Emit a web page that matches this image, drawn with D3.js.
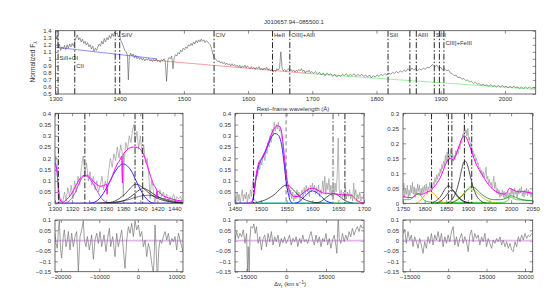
<!DOCTYPE html>
<html>
<head>
<meta charset="utf-8">
<script src="https://cdn.jsdelivr.net/npm/d3@7"></script>
<style>
  body { margin: 0; background: #fff; }
  svg { display: block; }
  text { font-family: 'Liberation Sans', Arial, sans-serif; fill: #333; }
</style>
</head>
<body>
<svg id="chart" width="555" height="292"></svg>
<script>
// ---- data ----
const title = "J010657.94\u2212085500.1";

// top panel: normalized spectrum [wavelength, flux]
const spectrum = [[1300,1.38],[1301.5,1.28],[1303,1.33],[1304.5,1.16],[1306,1.21],[1308,1.12],[1310,1.17],[1312,1.14],[1314,1.19],[1316,1.13],[1318,1.2],[1320,1.15],[1322,1.21],[1324,1.17],[1326,1.22],[1328,1.18],[1330,1.25],[1332,1.3],[1334,1.34],[1336,1.27],[1338,1.3],[1340,1.24],[1342,1.28],[1344,1.22],[1346,1.25],[1348,1.2],[1350,1.23],[1352,1.17],[1354,1.2],[1356,1.14],[1358,1.18],[1360,1.11],[1362,1.15],[1364,1.12],[1366,1.17],[1368,1.21],[1370,1.18],[1372,1.25],[1374,1.21],[1376,1.29],[1378,1.24],[1380,1.3],[1382,1.27],[1384,1.33],[1386,1.29],[1388,1.36],[1390,1.32],[1392,1.38],[1394,1.35],[1396,1.37],[1398,1.31],[1400,1.33],[1402,1.26],[1404,1.22],[1406,1.17],[1408,1.12],[1410,1.1],[1412,1.05],[1413.5,0.7],[1415,1.03],[1417,1.08],[1419,1.04],[1421,1.07],[1423,1.01],[1425,1.05],[1427,1.0],[1429,1.03],[1431,0.99],[1433,1.02],[1435,0.98],[1437,1.01],[1439,0.97],[1441,1.0],[1443,0.98],[1445,1.01],[1447,0.97],[1449,0.99],[1451,0.96],[1453,0.99],[1455,0.97],[1457,1.0],[1459,0.96],[1461,0.98],[1463,0.95],[1465,0.99],[1467,0.97],[1469,1.0],[1471,0.96],[1473,0.68],[1475,0.98],[1477,1.02],[1479,1.0],[1481,1.04],[1483,0.86],[1485,1.02],[1487,1.06],[1489,1.04],[1491,1.09],[1493,1.07],[1495,1.12],[1497,1.1],[1499,1.15],[1501,1.13],[1503,1.17],[1505,1.15],[1507,1.2],[1509,1.18],[1511,1.22],[1513,1.19],[1515,1.24],[1517,1.21],[1519,1.26],[1521,1.23],[1523,1.27],[1525,1.24],[1527,1.28],[1529,1.25],[1531,1.27],[1533,1.23],[1535,1.26],[1537,1.24],[1539,1.22],[1541,1.2],[1543,1.15],[1545,1.07],[1547,1.02],[1549,1.0],[1551,0.98],[1553,0.96],[1555,0.97],[1557,0.94],[1559,0.96],[1561,0.93],[1563,0.95],[1565,0.92],[1567,0.94],[1569,0.91],[1571,0.93],[1573,0.9],[1575,0.93],[1577,0.9],[1579,0.92],[1581,0.89],[1583,0.91],[1585,0.88],[1587,0.91],[1589,0.87],[1591,0.9],[1593,0.88],[1595,0.91],[1597,0.87],[1599,0.9],[1601,0.88],[1603,0.86],[1605,0.89],[1607,0.86],[1609,0.88],[1611,0.85],[1613,0.88],[1615,0.86],[1617,0.89],[1619,0.85],[1621,0.87],[1623,0.84],[1625,0.87],[1627,0.85],[1629,0.88],[1631,0.84],[1633,0.86],[1635,0.83],[1637,0.85],[1639,0.81],[1641,0.84],[1643,0.82],[1645,0.86],[1647,0.84],[1649,0.87],[1651,1.1],[1653,0.86],[1655,0.83],[1657,0.85],[1659,0.82],[1661,0.84],[1663,0.86],[1665,0.83],[1667,0.85],[1669,0.82],[1671,0.84],[1673,0.81],[1675,0.84],[1677,0.82],[1679,0.85],[1681,0.83],[1683,0.86],[1685,0.82],[1687,0.84],[1689,0.8],[1691,0.83],[1693,0.81],[1695,0.84],[1697,0.8],[1699,0.82],[1702,0.79],[1705,0.82],[1708,0.78],[1711,0.81],[1714,0.77],[1717,0.8],[1720,0.76],[1723,0.8],[1726,0.77],[1729,0.79],[1732,0.75],[1735,0.78],[1738,0.74],[1741,0.77],[1744,0.75],[1747,0.78],[1750,0.76],[1753,0.79],[1756,0.75],[1759,0.78],[1762,0.76],[1765,0.79],[1768,0.75],[1771,0.78],[1774,0.76],[1777,0.78],[1780,0.75],[1783,0.77],[1786,0.74],[1789,0.77],[1792,0.73],[1795,0.76],[1798,0.74],[1801,0.77],[1804,0.75],[1807,0.78],[1810,0.76],[1813,0.79],[1816,0.77],[1819,0.8],[1822,0.78],[1825,0.81],[1828,0.79],[1831,0.82],[1834,0.8],[1837,0.83],[1840,0.81],[1843,0.84],[1846,0.82],[1849,0.86],[1852,0.83],[1855,0.87],[1858,0.84],[1861,0.86],[1864,0.83],[1867,0.86],[1870,0.84],[1873,0.87],[1876,0.85],[1879,0.88],[1882,0.87],[1885,0.9],[1888,0.92],[1891,0.89],[1894,0.91],[1897,0.86],[1900,0.88],[1903,0.84],[1906,0.86],[1909,0.83],[1912,0.84],[1915,0.8],[1918,0.79],[1921,0.76],[1924,0.77],[1927,0.73],[1930,0.74],[1933,0.71],[1936,0.72],[1939,0.69],[1942,0.7],[1945,0.67],[1948,0.68],[1951,0.65],[1954,0.67],[1957,0.64],[1960,0.65],[1963,0.62],[1966,0.64],[1969,0.62],[1972,0.63],[1975,0.61],[1978,0.63],[1981,0.61],[1984,0.62],[1987,0.6],[1990,0.62],[1993,0.6],[1996,0.62],[1999,0.6],[2002,0.61],[2005,0.59],[2008,0.61],[2011,0.59],[2014,0.61],[2017,0.59],[2020,0.6],[2023,0.58],[2026,0.6],[2029,0.58],[2032,0.6],[2035,0.58],[2038,0.6],[2041,0.58],[2044,0.59],[2047,0.58]];

// local continua under each window
const contSiIV = [[1300,1.165],[1458,1.0]];
const contCIV = [[1447,0.985],[1699,0.788]];
const contCIII = [[1681,0.80],[2047,0.566]];

const topLines = [1304, 1330, 1393, 1400, 1547, 1638, 1665, 1818, 1852, 1862, 1890, 1898, 1905];
const topLabels = [
  { text: "SiII+OI", at: 1304, row: 2 },
  { text: "CII", at: 1330, row: 3 },
  { text: "SiIV", at: 1400, row: 0 },
  { text: "CIV", at: 1547, row: 0 },
  { text: "HeII", at: 1638, row: 0 },
  { text: "OIII]+AlII", at: 1665, row: 0 },
  { text: "SiII", at: 1818, row: 0 },
  { text: "AlIII", at: 1862, row: 0 },
  { text: "SiIII", at: 1890, row: 0 },
  { text: "CIII]+FeIII", at: 1905, row: 1 }
];
const topXTicks = [1300, 1400, 1500, 1600, 1700, 1800, 1900, 2000];
const topYTicks = [0.5, 0.6, 0.7, 0.8, 0.9, 1, 1.1, 1.2, 1.3, 1.4];

// SiIV window
const siivData = [[1300,0.17],[1301,0.21],[1302.5,0.19],[1303.5,0.05],[1305,0.0],[1307,0.02],[1309,0.0],[1311,0.05],[1313,0.01],[1315,0.07],[1317,0.03],[1319,0.08],[1321,0.02],[1323,0.1],[1325,0.05],[1327,0.12],[1329,0.08],[1331,0.16],[1333,0.21],[1335,0.13],[1337,0.18],[1339,0.1],[1341,0.14],[1343,0.08],[1345,0.12],[1347,0.06],[1349,0.1],[1351,0.05],[1353,0.08],[1355,0.12],[1357,0.06],[1359,0.1],[1361,0.07],[1363,0.15],[1365,0.2],[1367,0.16],[1369,0.22],[1371,0.19],[1373,0.25],[1375,0.2],[1377,0.26],[1379,0.22],[1380,0.03],[1381,0.18],[1383,0.27],[1385,0.24],[1387,0.3],[1389,0.27],[1391,0.33],[1392.5,0.35],[1394,0.27],[1396,0.32],[1398,0.24],[1400,0.3],[1402,0.22],[1404,0.26],[1406,0.18],[1408,0.2],[1410,0.12],[1411.5,0.02],[1413,0.1],[1415,0.07],[1417,0.0],[1419,0.05],[1421,0.02],[1423,0.06],[1425,0.03],[1427,0.05],[1429,0.02],[1431,0.04],[1433,0.01],[1435,0.03],[1437,0.02],[1439,0.04],[1441,0.01],[1443,0.03],[1445,0.02],[1447,0.03],[1449,0.01]];
const siivTotal = [[1300,0.18],[1302,0.15],[1304,0.07],[1306,0.015],[1309,0.005],[1314,0.018],[1319,0.04],[1324,0.075],[1329,0.108],[1334,0.124],[1337,0.125],[1341,0.115],[1345,0.098],[1349,0.084],[1353,0.076],[1357,0.078],[1360,0.085],[1361,0.04],[1362,0.08],[1365,0.1],[1369,0.14],[1373,0.175],[1377,0.2],[1378,0.21],[1379,0.09],[1380,0.215],[1384,0.235],[1388,0.247],[1392,0.25],[1396,0.249],[1400,0.24],[1404,0.215],[1408,0.17],[1412,0.12],[1416,0.08],[1419,0.06],[1419.5,0.02],[1420,0.055],[1425,0.038],[1430,0.028],[1436,0.02],[1442,0.014],[1449,0.01]];
const siivCyan = [[1300,0.19],[1302,0.15],[1304,0.07],[1306,0.015],[1308,0]];
const siivCII = [[1312,0],[1318,0.015],[1324,0.05],[1329,0.095],[1333,0.118],[1336,0.121],[1340,0.112],[1345,0.085],[1350,0.05],[1355,0.02],[1360,0.005],[1365,0]];
const siivBroad = [[1340,0],[1348,0.008],[1355,0.035],[1362,0.08],[1368,0.125],[1374,0.16],[1380,0.175],[1385,0.165],[1390,0.14],[1395,0.1],[1400,0.062],[1405,0.03],[1410,0.01],[1416,0]];
const siivNarrowA = [[1350,0],[1365,0.004],[1375,0.02],[1383,0.045],[1389,0.07],[1394,0.085],[1399,0.08],[1405,0.062],[1412,0.04],[1420,0.022],[1430,0.01],[1440,0.004],[1450,0.001]];
const siivNarrowB = [[1360,0],[1375,0.006],[1385,0.02],[1393,0.042],[1399,0.06],[1404,0.066],[1409,0.058],[1416,0.04],[1423,0.024],[1432,0.011],[1442,0.004],[1450,0.002]];
const siivNarrowC = [[1350,0],[1370,0.005],[1385,0.015],[1398,0.03],[1408,0.036],[1418,0.03],[1430,0.018],[1442,0.008],[1450,0.005]];
const siivBase = [[1300,0.002],[1450,0.002]];
const siivLines = [1304, 1335, 1393.8, 1402.8];
const siivXTicks = [1300, 1320, 1340, 1360, 1380, 1400, 1420, 1440];

// CIV window
const civData = [[1450,0.03],[1452,0.0],[1454,0.05],[1456,0.01],[1458,0.04],[1460,0.0],[1462,0.03],[1464,0.06],[1466,0.01],[1468,0.04],[1470,0.02],[1472,0.05],[1474,0.0],[1476,0.04],[1478,0.02],[1480,0.06],[1482,0.03],[1484,0.09],[1486,0.11],[1488,0.06],[1490,0.1],[1492,0.14],[1494,0.12],[1496,0.17],[1498,0.15],[1500,0.19],[1502,0.17],[1504,0.2],[1506,0.22],[1508,0.19],[1510,0.24],[1512,0.22],[1514,0.27],[1516,0.25],[1518,0.3],[1520,0.27],[1522,0.33],[1524,0.3],[1526,0.36],[1528,0.32],[1530,0.35],[1532,0.33],[1534,0.36],[1536,0.32],[1538,0.34],[1540,0.3],[1542,0.27],[1544,0.22],[1546,0.17],[1548,0.12],[1550,0.08],[1552,0.05],[1554,0.07],[1556,0.03],[1558,0.06],[1560,0.02],[1562,0.05],[1564,0.01],[1566,0.04],[1568,0.02],[1570,0.06],[1572,0.03],[1574,0.05],[1576,0.01],[1578,0.04],[1580,0.06],[1582,0.02],[1584,0.07],[1586,0.04],[1588,0.08],[1590,0.05],[1592,0.07],[1594,0.03],[1596,0.08],[1598,0.05],[1600,0.09],[1602,0.06],[1604,0.08],[1606,0.04],[1608,0.07],[1610,0.05],[1612,0.08],[1614,0.03],[1616,0.06],[1618,0.04],[1620,0.1],[1622,0.05],[1624,0.12],[1626,0.04],[1628,0.09],[1630,0.06],[1632,0.11],[1634,0.05],[1636,0.08],[1638,0.03],[1640,0.07],[1642,0.04],[1644,0.09],[1646,0.05],[1648,0.12],[1650,0.29],[1652,0.06],[1654,0.03],[1656,0.06],[1658,0.02],[1660,0.05],[1662,0.03],[1664,0.07],[1666,0.02],[1668,0.05],[1670,0.03],[1672,0.06],[1674,0.02],[1676,0.04],[1678,0.01],[1680,0.09],[1682,0.03],[1684,0.06],[1686,0.01],[1688,0.04],[1690,0.02],[1692,0.05],[1694,0.01],[1696,0.03],[1698,0.02],[1700,0.04]];
const civTotal = [[1450,0.0],[1480,0.002],[1484,0.01],[1488,0.07],[1492,0.14],[1496,0.18],[1500,0.195],[1505,0.215],[1510,0.24],[1516,0.28],[1522,0.315],[1528,0.338],[1533,0.345],[1537,0.34],[1540,0.32],[1543,0.27],[1546,0.2],[1549,0.14],[1552,0.09],[1556,0.055],[1560,0.037],[1566,0.03],[1572,0.03],[1580,0.042],[1588,0.056],[1595,0.065],[1601,0.067],[1607,0.062],[1613,0.055],[1620,0.047],[1628,0.044],[1636,0.045],[1644,0.043],[1650,0.04],[1656,0.038],[1664,0.037],[1672,0.037],[1678,0.033],[1684,0.018],[1690,0.008],[1697,0.003],[1700,0.002]];
const civBroad = [[1482,0],[1486,0.03],[1490,0.1],[1494,0.15],[1498,0.18],[1503,0.2],[1509,0.23],[1515,0.265],[1521,0.295],[1527,0.31],[1532,0.307],[1537,0.29],[1541,0.25],[1545,0.18],[1549,0.1],[1553,0.045],[1557,0.012],[1562,0]];
const civBlue2 = [[1565,0],[1575,0.008],[1585,0.03],[1593,0.048],[1600,0.055],[1607,0.05],[1615,0.035],[1623,0.017],[1632,0.005],[1640,0]];
const civNarrow = [[1480,0],[1500,0.008],[1515,0.022],[1528,0.042],[1538,0.065],[1545,0.078],[1550,0.081],[1556,0.076],[1563,0.06],[1572,0.038],[1582,0.02],[1595,0.008],[1610,0.002],[1625,0]];
const civHeII = [[1605,0],[1618,0.01],[1628,0.028],[1636,0.04],[1642,0.042],[1650,0.035],[1658,0.02],[1668,0.007],[1680,0]];
const civOIII = [[1645,0],[1652,0.01],[1659,0.028],[1665,0.036],[1671,0.036],[1677,0.03],[1683,0.015],[1690,0.004],[1696,0]];
const civCyan = [[1450,0.002],[1478,0.002],[1483,0.012],[1487,0.016],[1491,0.008],[1495,0.002],[1700,0.002]];
const civLines = [1486, 1549, 1640, 1663];
const civXTicks = [1450, 1500, 1550, 1600, 1650, 1700];

// CIII] window
const ciiiData = [[1750,0.04],[1752,0.067],[1754,0.02],[1756,0.05],[1758,0.03],[1760,0.06],[1762,0.015],[1764,0.045],[1766,0.025],[1768,0.06],[1770,0.035],[1772,0.07],[1774,0.03],[1776,0.055],[1778,0.02],[1780,0.05],[1782,0.03],[1784,0.065],[1786,0.04],[1788,0.06],[1790,0.025],[1792,0.05],[1794,0.03],[1796,0.055],[1798,0.035],[1800,0.06],[1802,0.04],[1804,0.065],[1806,0.03],[1808,0.055],[1810,0.045],[1812,0.07],[1814,0.05],[1816,0.06],[1818,0.045],[1820,0.07],[1822,0.06],[1824,0.085],[1826,0.07],[1828,0.095],[1830,0.08],[1832,0.1],[1834,0.09],[1836,0.115],[1838,0.1],[1840,0.13],[1842,0.115],[1844,0.14],[1846,0.125],[1848,0.16],[1850,0.135],[1852,0.17],[1854,0.14],[1856,0.165],[1858,0.145],[1860,0.18],[1862,0.15],[1864,0.165],[1866,0.14],[1868,0.16],[1870,0.145],[1872,0.175],[1874,0.16],[1876,0.18],[1878,0.165],[1880,0.19],[1882,0.18],[1884,0.21],[1886,0.2],[1888,0.23],[1890,0.22],[1892,0.26],[1894,0.235],[1896,0.245],[1898,0.225],[1900,0.25],[1902,0.21],[1904,0.22],[1906,0.19],[1908,0.2],[1910,0.17],[1912,0.175],[1914,0.155],[1916,0.165],[1918,0.14],[1920,0.15],[1922,0.13],[1924,0.135],[1926,0.115],[1928,0.12],[1930,0.1],[1932,0.11],[1934,0.09],[1936,0.105],[1938,0.085],[1940,0.1],[1942,0.12],[1944,0.08],[1946,0.09],[1948,0.065],[1950,0.08],[1952,0.06],[1954,0.07],[1956,0.05],[1958,0.065],[1960,0.09],[1962,0.05],[1964,0.07],[1966,0.035],[1968,0.05],[1970,0.03],[1972,0.045],[1974,0.02],[1976,0.035],[1978,0.025],[1980,0.045],[1982,0.02],[1984,0.04],[1986,0.015],[1988,0.035],[1990,0.02],[1992,0.04],[1994,0.015],[1996,0.035],[1998,0.025],[2000,0.05],[2002,0.03],[2004,0.045],[2006,0.02],[2008,0.05],[2010,0.03],[2012,0.04],[2014,0.02],[2016,0.045],[2018,0.03],[2020,0.05],[2022,0.035],[2024,0.055],[2026,0.025],[2028,0.04],[2030,0.02],[2032,0.045],[2034,0.03],[2036,0.05],[2038,0.025],[2040,0.045],[2042,0.03],[2044,0.04],[2046,0.02],[2048,0.035],[2050,0.03]];
const ciiiTotal = [[1750,0.022],[1760,0.02],[1770,0.019],[1778,0.026],[1785,0.033],[1792,0.03],[1798,0.032],[1805,0.037],[1812,0.042],[1818,0.05],[1824,0.058],[1830,0.07],[1836,0.085],[1842,0.105],[1848,0.128],[1853,0.142],[1858,0.15],[1863,0.148],[1867,0.145],[1872,0.16],[1877,0.18],[1882,0.2],[1887,0.218],[1892,0.225],[1897,0.218],[1902,0.2],[1908,0.175],[1914,0.15],[1920,0.128],[1926,0.112],[1932,0.098],[1938,0.083],[1944,0.07],[1950,0.058],[1957,0.048],[1964,0.04],[1971,0.035],[1978,0.032],[1985,0.031],[1991,0.038],[1996,0.05],[2000,0.048],[2006,0.044],[2012,0.04],[2020,0.038],[2028,0.04],[2036,0.037],[2044,0.035],[2050,0.033]];
const ciiiAlIIIa = [[1815,0],[1828,0.01],[1838,0.025],[1846,0.045],[1852,0.056],[1856,0.058],[1861,0.052],[1868,0.038],[1876,0.022],[1885,0.01],[1895,0.004],[1910,0]];
const ciiiAlIIIb = [[1825,0],[1838,0.008],[1848,0.022],[1856,0.038],[1862,0.044],[1867,0.042],[1874,0.03],[1882,0.016],[1892,0.006],[1905,0]];
const ciiiSiIII = [[1850,0],[1862,0.01],[1872,0.035],[1880,0.075],[1886,0.115],[1891,0.138],[1895,0.14],[1899,0.128],[1905,0.095],[1912,0.055],[1920,0.025],[1930,0.008],[1942,0]];
const ciiiSiII = [[1780,0],[1792,0.012],[1802,0.03],[1810,0.039],[1816,0.038],[1824,0.028],[1832,0.014],[1842,0.004],[1850,0]];
const ciiiCIIIa = [[1860,0],[1875,0.01],[1890,0.03],[1900,0.048],[1907,0.055],[1914,0.053],[1922,0.044],[1932,0.03],[1945,0.018],[1960,0.012],[1975,0.012],[1990,0.018],[2000,0.025],[2010,0.02],[2025,0.012],[2050,0.008]];
const ciiiCIIIb = [[1855,0],[1870,0.008],[1885,0.025],[1897,0.042],[1905,0.048],[1912,0.046],[1922,0.035],[1935,0.018],[1948,0.007],[1960,0.002],[1975,0]];
const ciiiFe = [[1750,0.012],[1762,0.012],[1772,0.018],[1779,0.027],[1785,0.03],[1790,0.028],[1796,0.015],[1805,0.006],[1830,0.003],[1980,0.003],[1992,0.008],[1998,0.02],[2004,0.018],[2012,0.012],[2025,0.011],[2040,0.01],[2050,0.009]];
const ciiiLines = [1816, 1855, 1863, 1892, 1909];
const ciiiXTicks = [1750, 1800, 1850, 1900, 1950, 2000, 2050];

const fluxTicks04 = [0, 0.05, 0.1, 0.15, 0.2, 0.25, 0.3, 0.35, 0.4];
const fluxTicks03 = [0, 0.05, 0.1, 0.15, 0.2, 0.25, 0.3];

// residuals [velocity km/s, residual]
const residSiIV = [[-21500,0.035],[-21240,-0.013],[-20900,-0.037],[-20640,0.044],[-20380,0.097],[-20030,-0.045],[-19770,-0.085],[-19340,0.02],[-19080,0.052],[-18650,-0.029],[-18300,0.003],[-18040,0.044],[-17610,-0.045],[-17180,0.036],[-16740,-0.029],[-16310,0.02],[-15880,0.044],[-15450,-0.15],[-15010,0.02],[-14580,0.052],[-14150,0.097],[-13890,0.003],[-13460,-0.029],[-13110,0.02],[-12590,-0.045],[-11990,0.028],[-11550,-0.09],[-11120,0.003],[-10690,0.036],[-10260,-0.013],[-9820,0.044],[-9390,-0.029],[-8780,0.028],[-8270,-0.053],[-7920,0.003],[-7400,0.06],[-7060,-0.029],[-6540,0.02],[-5930,-0.077],[-5500,0.036],[-5070,-0.029],[-4630,0.011],[-4200,0.052],[-3770,-0.045],[-3340,-0.134],[-2900,0.003],[-2470,0.068],[-2040,0.036],[-1610,0.084],[-1170,0.02],[-740,0.097],[-310,0.052],[130,0.076],[560,0.02],[990,0.044],[1420,-0.029],[1860,0.003],[2290,-0.077],[2720,-0.013],[3150,-0.045],[3590,-0.11],[4020,-0.16],[4190,-0.09],[4450,0.076],[4710,-0.029],[5060,-0.2],[5400,-0.045],[5750,0.003],[6180,-0.013],[6610,0.02],[7040,0.044],[7480,0.003],[7910,0.036],[8340,-0.021],[8780,0.011],[9210,-0.005],[9640,0.02],[10070,-0.045],[10510,0.036],[10940,0.003],[11370,-0.029],[11700,-0.053]];
const residCIV = [[-19300,0.003],[-18680,0.044],[-18050,0.011],[-17430,0.035],[-16810,0.019],[-16190,0.052],[-15560,-0.013],[-14940,0.035],[-14570,-0.16],[-14320,-0.029],[-13940,-0.16],[-13690,0.003],[-13320,0.068],[-12700,0.06],[-12200,0.081],[-11700,0.035],[-11200,0.068],[-10580,-0.013],[-9960,0.019],[-9330,-0.045],[-8710,0.011],[-8090,0.027],[-7460,-0.029],[-6840,0.035],[-6220,-0.005],[-5590,0.044],[-4970,-0.021],[-4350,0.019],[-3730,-0.005],[-3100,0.027],[-2480,-0.029],[-1860,0.011],[-1230,-0.01],[-610,0.019],[10,-0.013],[640,0.006],[1260,0.027],[1880,-0.021],[2510,0.011],[3130,-0.005],[3750,0.019],[4370,-0.029],[5000,0.011],[5620,-0.013],[6240,0.027],[6870,-0.005],[7490,0.006],[8110,-0.013],[8740,0.019],[9360,0.044],[9980,0.003],[10600,-0.021],[11230,0.027],[11850,-0.01],[12470,0.019],[13100,-0.029],[13720,0.011],[14340,-0.005],[14970,0.035],[15590,-0.021],[16210,0.011],[16830,-0.037],[17460,0.003],[18080,0.027],[18700,-0.021],[19080,-0.061],[19580,0.12],[19950,0.011],[20570,-0.013],[21200,0.035],[21820,-0.005],[22440,0.027],[23060,0.003],[23690,0.044],[24310,0.019],[24930,0.06],[25560,0.027],[26180,0.052],[26800,0.068],[27430,0.044],[28050,0.076],[28670,0.06],[29290,0.068]];
const residCIII = [[-17600,0.035],[-16950,0.055],[-16300,-0.013],[-15640,0.044],[-14990,0.003],[-14340,0.027],[-13690,-0.029],[-13040,0.019],[-12380,-0.005],[-11730,-0.037],[-11080,0.011],[-10430,-0.021],[-9780,-0.061],[-9120,-0.005],[-8470,-0.037],[-7820,0.019],[-7170,-0.013],[-6520,0.035],[-5860,-0.021],[-5210,0.027],[-4560,0.003],[-3910,0.044],[-3260,-0.005],[-2600,0.035],[-1950,-0.029],[-1300,0.019],[-650,-0.013],[0,0.027],[660,-0.005],[1310,0.044],[1960,0.068],[2610,-0.021],[3260,0.019],[3920,-0.029],[4570,0.011],[5220,0.035],[5870,-0.013],[6520,0.019],[7180,-0.005],[7830,-0.053],[8480,0.027],[9130,0.052],[9780,-0.005],[10440,0.035],[11090,0.011],[11740,0.027],[12390,-0.021],[13040,0.019],[13700,-0.005],[14350,0.035],[15000,-0.029],[15650,0.011],[16300,-0.013],[16960,-0.037],[17610,0.003],[18260,-0.013],[18910,0.011],[19560,-0.005],[20220,0.019],[20870,-0.021],[21520,0.003],[22170,-0.029],[22820,-0.005],[23480,-0.037],[24130,-0.013],[24780,-0.045],[25430,-0.053],[26080,-0.005],[26740,-0.029],[27390,0.019],[28040,-0.005],[28690,0.027],[29340,0.003],[30000,0.035],[30650,0.011],[31300,0.027],[31950,0.019],[32600,0.035]];
const residYTicks = [-0.15, -0.1, -0.05, 0, 0.05, 0.1];
const velTicksSiIV = [-20000, -10000, 0, 10000];
const velTicksCIV = [-15000, 0, 15000];
const velTicksCIII = [-15000, 0, 15000, 30000];

// ---- drawing ----
const svg = d3.select("#chart");
svg.append("rect").attr("width", 555).attr("height", 292).attr("fill", "#fff");

const fmt = d3.format("~g");
let clipCount = 0;

function makePanel(box, xDomain, yDomain, xTicks, yTicks) {
  const x = d3.scaleLinear().domain(xDomain).range([box.l, box.r]);
  const y = d3.scaleLinear().domain(yDomain).range([box.b, box.t]);
  const id = "clip" + (clipCount++);
  svg.append("clipPath").attr("id", id)
    .append("rect")
    .attr("x", box.l).attr("y", box.t)
    .attr("width", box.r - box.l).attr("height", box.b - box.t);

  const axes = svg.append("g");
  const styleAxis = g => {
    g.select(".domain").remove();
    g.selectAll(".tick line").attr("stroke", "#444").attr("stroke-width", 0.6);
    g.selectAll("text").attr("font-size", 6).attr("fill", "#333")
      .attr("font-family", "'Liberation Sans', Arial, sans-serif");
  };
  axes.append("g").attr("transform", `translate(0,${box.b})`)
    .call(d3.axisBottom(x).tickValues(xTicks).tickSize(-3).tickPadding(3).tickFormat(fmt))
    .call(styleAxis);
  axes.append("g").attr("transform", `translate(0,${box.t})`)
    .call(d3.axisTop(x).tickValues(xTicks).tickSize(-3).tickFormat(""))
    .call(styleAxis);
  axes.append("g").attr("transform", `translate(${box.l},0)`)
    .call(d3.axisLeft(y).tickValues(yTicks).tickSize(-3).tickPadding(4).tickFormat(fmt))
    .call(styleAxis);
  axes.append("g").attr("transform", `translate(${box.r},0)`)
    .call(d3.axisRight(y).tickValues(yTicks).tickSize(-3).tickFormat(""))
    .call(styleAxis);

  const plot = svg.append("g").attr("clip-path", `url(#${id})`);
  const frame = () => svg.append("rect")
    .attr("x", box.l).attr("y", box.t)
    .attr("width", box.r - box.l).attr("height", box.b - box.t)
    .attr("fill", "none").attr("stroke", "#444").attr("stroke-width", 0.8);
  return { x, y, plot, box, frame };
}

function drawLine(p, data, color, width, smooth) {
  const line = d3.line()
    .x(d => p.x(d[0]))
    .y(d => p.y(d[1]))
    .curve(smooth ? d3.curveMonotoneX : d3.curveLinear);
  p.plot.append("path")
    .datum(data)
    .attr("d", line)
    .attr("fill", "none")
    .attr("stroke", color)
    .attr("stroke-width", width)
    .attr("stroke-linejoin", "round");
}

function drawMarkers(p, lines, color, dash, width) {
  p.plot.selectAll(null)
    .data(lines)
    .enter().append("line")
    .attr("x1", d => p.x(d)).attr("x2", d => p.x(d))
    .attr("y1", p.box.t).attr("y2", p.box.b)
    .attr("stroke", color)
    .attr("stroke-width", width)
    .attr("stroke-dasharray", dash);
}

const DASHDOT = "6,2,1.5,2";

// top panel
const topP = makePanel({ l: 55.5, r: 535.7, t: 30.7, b: 94 }, [1300, 2048], [0.5, 1.4], topXTicks, topYTicks);
drawLine(topP, contSiIV, "#8080ff", 0.9);
drawLine(topP, contCIV, "#ff9090", 0.9);
drawLine(topP, contCIII, "#90f090", 0.9);
drawLine(topP, spectrum, "#555", 0.6);
drawMarkers(topP, topLines, "#111", DASHDOT, 0.9);
topP.frame();

const labelRowY = [37, 45, 60, 68];
svg.append("g").selectAll("text")
  .data(topLabels)
  .enter().append("text")
  .attr("x", d => topP.x(d.at) + 1.5)
  .attr("y", d => labelRowY[d.row])
  .attr("font-size", 6)
  .text(d => d.text);

svg.append("text")
  .attr("x", 294).attr("y", 24)
  .attr("text-anchor", "middle")
  .attr("font-size", 6)
  .text(title);

const yLab = svg.append("text")
  .attr("transform", "translate(35,62)rotate(-90)")
  .attr("text-anchor", "middle")
  .attr("font-size", 6.5);
yLab.append("tspan").text("Normalized F");
yLab.append("tspan").attr("font-size", 4.5).attr("dy", 1.5).text("\u03bb");

// middle panels
const midT = 113.3, midB = 203.3;
const p1 = makePanel({ l: 55, r: 183, t: midT, b: midB }, [1300, 1450], [0, 0.4], siivXTicks, fluxTicks04);
drawLine(p1, siivData, "#9a9a9a", 0.7);
drawLine(p1, siivBase, "#6a5acd", 0.8);
drawLine(p1, siivCyan, "#33ccee", 0.9, true);
drawLine(p1, siivCII, "#9a30e0", 0.8, true);
drawLine(p1, siivBroad, "#1a1aff", 0.9, true);
drawLine(p1, siivNarrowC, "#222", 0.6, true);
drawLine(p1, siivNarrowA, "#111", 0.7, true);
drawLine(p1, siivNarrowB, "#111", 0.7, true);
drawLine(p1, siivTotal, "#ff00ff", 1, true);
drawMarkers(p1, siivLines, "#111", DASHDOT, 0.9);
p1.frame();

const p2 = makePanel({ l: 235, r: 364, t: midT, b: midB }, [1450, 1700], [0, 0.4], civXTicks, fluxTicks04);
drawLine(p2, civData, "#9a9a9a", 0.7);
drawLine(p2, civCyan, "#00cccc", 0.8, true);
drawLine(p2, civBlue2, "#1a1aff", 0.9, true);
drawLine(p2, civBroad, "#1a1aff", 0.9, true);
drawLine(p2, civNarrow, "#111", 0.7, true);
drawLine(p2, civHeII, "#111", 0.7, true);
drawLine(p2, civOIII, "#e6d800", 0.9, true);
drawLine(p2, civTotal, "#ff00ff", 1, true);
drawMarkers(p2, [civLines[0], civLines[3]], "#111", DASHDOT, 0.9);
drawMarkers(p2, [civLines[1]], "#222", "4,3", 0.6);
drawMarkers(p2, [civLines[2]], "#888", DASHDOT, 1.4);
p2.frame();

svg.append("text")
  .attr("x", 293).attr("y", 111)
  .attr("text-anchor", "middle")
  .attr("font-size", 6)
  .text("Rest\u2013frame wavelength (\u00c5)");

const p3 = makePanel({ l: 403, r: 532.7, t: midT, b: midB }, [1750, 2050], [0, 0.3], ciiiXTicks, fluxTicks03);
drawLine(p3, ciiiData, "#9a9a9a", 0.7);
drawLine(p3, ciiiFe, "#22dd22", 0.9, true);
drawLine(p3, ciiiSiII, "#ffa500", 0.9, true);
drawLine(p3, ciiiCIIIb, "#c8c800", 0.9, true);
drawLine(p3, ciiiCIIIa, "#2e8b2e", 0.9, true);
drawLine(p3, ciiiAlIIIa, "#111", 0.7, true);
drawLine(p3, ciiiAlIIIb, "#111", 0.7, true);
drawLine(p3, ciiiSiIII, "#111", 0.7, true);
drawLine(p3, ciiiTotal, "#ff00ff", 1, true);
drawMarkers(p3, ciiiLines, "#111", DASHDOT, 0.9);
p3.frame();

// residual panels
const botT = 220, botB = 271.7;
const zeroLine = [[-40000, 0], [40000, 0]];
const r1 = makePanel({ l: 55, r: 183, t: botT, b: botB }, [-21500, 11700], [-0.15, 0.1], velTicksSiIV, residYTicks);
drawLine(r1, zeroLine, "#e2b4f0", 1.8);
drawLine(r1, residSiIV, "#777", 0.7);
r1.frame();

const r2 = makePanel({ l: 235, r: 364, t: botT, b: botB }, [-19300, 29300], [-0.15, 0.1], velTicksCIV, residYTicks);
drawLine(r2, zeroLine, "#e2b4f0", 1.8);
drawLine(r2, residCIV, "#777", 0.7);
r2.frame();

const r3 = makePanel({ l: 403, r: 532.7, t: botT, b: botB }, [-17600, 33000], [-0.15, 0.1], velTicksCIII, residYTicks);
drawLine(r3, zeroLine, "#e2b4f0", 1.8);
drawLine(r3, residCIII, "#777", 0.7);
r3.frame();

const vLab = svg.append("text")
  .attr("x", 290).attr("y", 286)
  .attr("text-anchor", "middle")
  .attr("font-size", 6);
vLab.append("tspan").text("\u0394v");
vLab.append("tspan").attr("font-size", 4.5).attr("dy", 1.5).text("r");
vLab.append("tspan").attr("dy", -1.5).text(" (km s");
vLab.append("tspan").attr("font-size", 4.5).attr("dy", -2.5).text("\u22121");
vLab.append("tspan").attr("dy", 2.5).text(")");
</script>
</body>
</html>
